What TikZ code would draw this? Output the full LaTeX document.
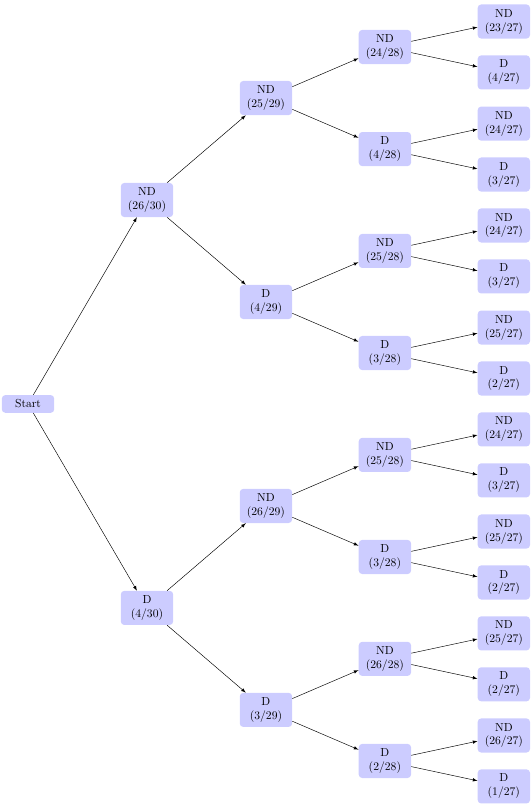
\documentclass[tikz,border=0pt]{standalone}
\usepackage{tikz}
\usetikzlibrary{positioning}
\usetikzlibrary{arrows}

\begin{document}
\begin{tikzpicture}[>=latex,auto,node distance=102.3pt,
    box/.style={fill=blue!20,rounded corners=3pt,inner sep=4pt,minimum width=45pt,align=center}]
  \useasboundingbox (-24.1pt,-346.6pt) rectangle (433.4pt,347.4pt);

  \node[box] (Start)                               {Start};
  \node[box] (N)    [right of=Start, yshift=175.4pt]  {ND\\(26/30)};
  \node[box] (D)    [right of=Start, yshift=-175.4pt] {D\\(4/30)};

  \node[box] (NN)   [right of=N, yshift=87.7pt]    {ND\\(25/29)};
  \node[box] (ND)   [right of=N, yshift=-87.7pt]   {D\\(4/29)};
  \node[box] (DN)   [right of=D, yshift=87.7pt]    {ND\\(26/29)};
  \node[box] (DD)   [right of=D, yshift=-87.7pt]   {D\\(3/29)};

  \node[box] (NNN)  [right of=NN, yshift=43.9pt]   {ND\\(24/28)};
  \node[box] (NND)  [right of=NN, yshift=-43.9pt]  {D\\(4/28)};
  \node[box] (NDN)  [right of=ND, yshift=43.9pt]   {ND\\(25/28)};
  \node[box] (NDD)  [right of=ND, yshift=-43.9pt]  {D\\(3/28)};
  \node[box] (DNN)  [right of=DN, yshift=43.9pt]   {ND\\(25/28)};
  \node[box] (DND)  [right of=DN, yshift=-43.9pt]  {D\\(3/28)};
  \node[box] (DDN)  [right of=DD, yshift=43.9pt]   {ND\\(26/28)};
  \node[box] (DDD)  [right of=DD, yshift=-43.9pt]  {D\\(2/28)};

  \node[box] (NNNN) [right of=NNN, yshift=21.9pt]  {ND\\(23/27)};
  \node[box] (NNND) [right of=NNN, yshift=-21.9pt] {D\\(4/27)};
  \node[box] (NNDN) [right of=NND, yshift=21.9pt]  {ND\\(24/27)};
  \node[box] (NNDD) [right of=NND, yshift=-21.9pt] {D\\(3/27)};
  \node[box] (NDNN) [right of=NDN, yshift=21.9pt]  {ND\\(24/27)};
  \node[box] (NDND) [right of=NDN, yshift=-21.9pt] {D\\(3/27)};
  \node[box] (NDDN) [right of=NDD, yshift=21.9pt]  {ND\\(25/27)};
  \node[box] (NDDD) [right of=NDD, yshift=-21.9pt] {D\\(2/27)};
  \node[box] (DNNN) [right of=DNN, yshift=21.9pt]  {ND\\(24/27)};
  \node[box] (DNND) [right of=DNN, yshift=-21.9pt] {D\\(3/27)};
  \node[box] (DNDN) [right of=DND, yshift=21.9pt]  {ND\\(25/27)};
  \node[box] (DNDD) [right of=DND, yshift=-21.9pt] {D\\(2/27)};
  \node[box] (DDNN) [right of=DDN, yshift=21.9pt]  {ND\\(25/27)};
  \node[box] (DDND) [right of=DDN, yshift=-21.9pt] {D\\(2/27)};
  \node[box] (DDDN) [right of=DDD, yshift=21.9pt]  {ND\\(26/27)};
  \node[box] (DDDD) [right of=DDD, yshift=-21.9pt] {D\\(1/27)};

  \path[->]
    (Start) edge (N)    (Start) edge (D)
        (N) edge (NN)       (N) edge (ND)
        (D) edge (DN)       (D) edge (DD)
       (NN) edge (NNN)     (NN) edge (NND)
       (ND) edge (NDN)     (ND) edge (NDD)
       (DN) edge (DNN)     (DN) edge (DND)
       (DD) edge (DDN)     (DD) edge (DDD)
      (NNN) edge (NNNN)   (NNN) edge (NNND)
      (NND) edge (NNDN)   (NND) edge (NNDD)
      (NDN) edge (NDNN)   (NDN) edge (NDND)
      (NDD) edge (NDDN)   (NDD) edge (NDDD)
      (DNN) edge (DNNN)   (DNN) edge (DNND)
      (DND) edge (DNDN)   (DND) edge (DNDD)
      (DDN) edge (DDNN)   (DDN) edge (DDND)
      (DDD) edge (DDDN)   (DDD) edge (DDDD);
\end{tikzpicture}
\end{document}
